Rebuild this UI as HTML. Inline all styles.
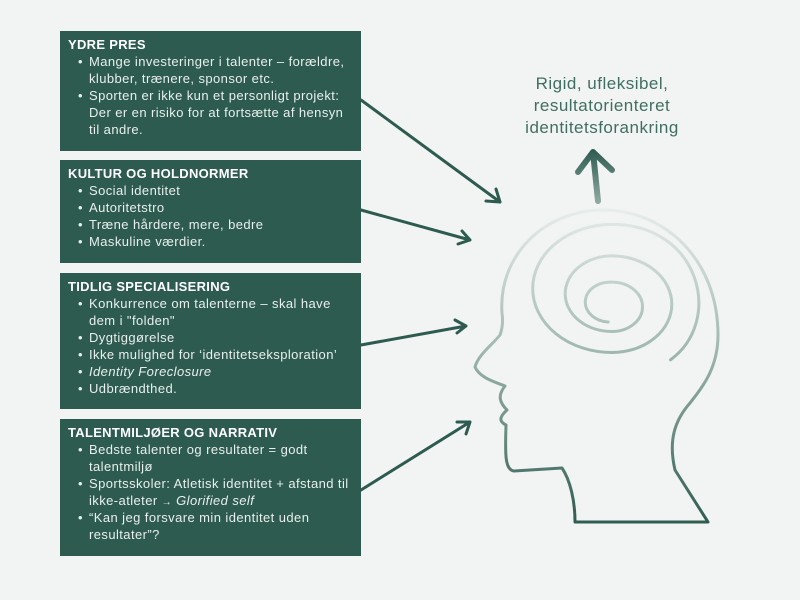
<!DOCTYPE html>
<html><head><meta charset="utf-8"><style>
body{margin:0;width:800px;height:600px;background:#f2f3f3;position:relative;overflow:hidden;font-family:"Liberation Sans",sans-serif;}
.b{position:absolute;left:60px;width:301px;background:#2e5b50;color:#e8efec;box-sizing:border-box;padding:5px 6px 0 8px;font-size:13px;letter-spacing:0.42px;line-height:17px;}
.b h{display:block;font-weight:bold;color:#fff;font-size:13px;letter-spacing:0.3px;}
.b ul{margin:0;padding:0 0 0 21px;list-style:none;}
.b li{position:relative;}
.b li:before{content:"•";position:absolute;left:-11px;}
.t{position:absolute;left:470px;width:264px;top:73px;text-align:center;color:#3f6f62;font-size:17px;letter-spacing:0.5px;line-height:22px;}
</style></head><body>
<div class="b" style="top:31px;height:120px"><h>YDRE PRES</h><ul><li>Mange investeringer i talenter – forældre, klubber, trænere, sponsor etc.</li><li>Sporten er ikke kun et personligt projekt: Der er en risiko for at fortsætte af hensyn til andre.</li></ul></div>
<div class="b" style="top:160px;height:103px"><h>KULTUR OG HOLDNORMER</h><ul><li>Social identitet</li><li>Autoritetstro</li><li>Træne hårdere, mere, bedre</li><li>Maskuline værdier.</li></ul></div>
<div class="b" style="top:273px;height:136px"><h>TIDLIG SPECIALISERING</h><ul><li>Konkurrence om talenterne – skal have dem i "folden"</li><li>Dygtiggørelse</li><li>Ikke mulighed for ‘identitetseksploration’</li><li><i>Identity Foreclosure</i></li><li>Udbrændthed.</li></ul></div>
<div class="b" style="top:419px;height:137px"><h>TALENTMILJØER OG NARRATIV</h><ul><li>Bedste talenter og resultater = godt talentmiljø</li><li>Sportsskoler: Atletisk identitet + afstand til ikke-atleter <span style="font-size:10px;line-height:10px">→</span> <i>Glorified self</i></li><li>“Kan jeg forsvare min identitet uden resultater”?</li></ul></div>
<div class="t">Rigid, ufleksibel,<br>resultatorienteret<br>identitetsforankring</div>
<svg width="800" height="600" style="position:absolute;left:0;top:0">
<defs>
<linearGradient id="g" gradientUnits="userSpaceOnUse" x1="0" y1="205" x2="0" y2="525"><stop offset="0" stop-color="#e9efed"/><stop offset="0.45" stop-color="#9fb8b0"/><stop offset="1" stop-color="#2e5b50"/></linearGradient>
<linearGradient id="ga" gradientUnits="userSpaceOnUse" x1="0" y1="150" x2="0" y2="202"><stop offset="0" stop-color="#2e5b50"/><stop offset="1" stop-color="#8fa9a1"/></linearGradient>
</defs>
<g stroke="#2e5b50" stroke-width="3" fill="none" stroke-linecap="round" stroke-linejoin="round">
<path d="M361 100 L500 202 M486 201 L500 202 L496 189"/>
<path d="M361 210 L470 240 M458 244 L470 240 L462 231"/>
<path d="M361 345 L466 326 M455 320 L466 326 L457 333"/>
<path d="M361 490 L470 422 M457 422 L470 422 L466 434"/>
</g>
<g stroke="url(#ga)" stroke-width="6" fill="none" stroke-linecap="round" stroke-linejoin="round">
<path d="M598 201 L593 152 M578 172 L593 152 L612 170"/>
</g>
<g stroke="url(#g)" stroke-width="3" fill="none" stroke-linecap="round" stroke-linejoin="round">
<path d="M502 313 C498 255 545 210 603 210 C665 210 718 260 718 335 C718 370 700 390 690 403 C675 420 668 440 675 470 L708 522 L575 522 C575 500 570 480 562 468 L514 471 C505 470 505 455 506 425 C500 422 498 418 507 410 C500 403 497 396 505 386 C495 382 480 378 475 367 C478 355 492 345 500 335 C503 327 503 320 502 313 Z"/>
<path vector-effect="non-scaling-stroke" transform="translate(612,300) scale(1.3,1.05) translate(-612,-300)" d="M609 321 A17 17 0 0 1 612 283 A22 22 0 0 1 612 330 A36 36 0 0 1 612 258 A46 46 0 0 1 612 350 A61 61 0 0 1 612 228 C680 228 698 320 657 357"/>
</g>
</svg>
</body></html>
